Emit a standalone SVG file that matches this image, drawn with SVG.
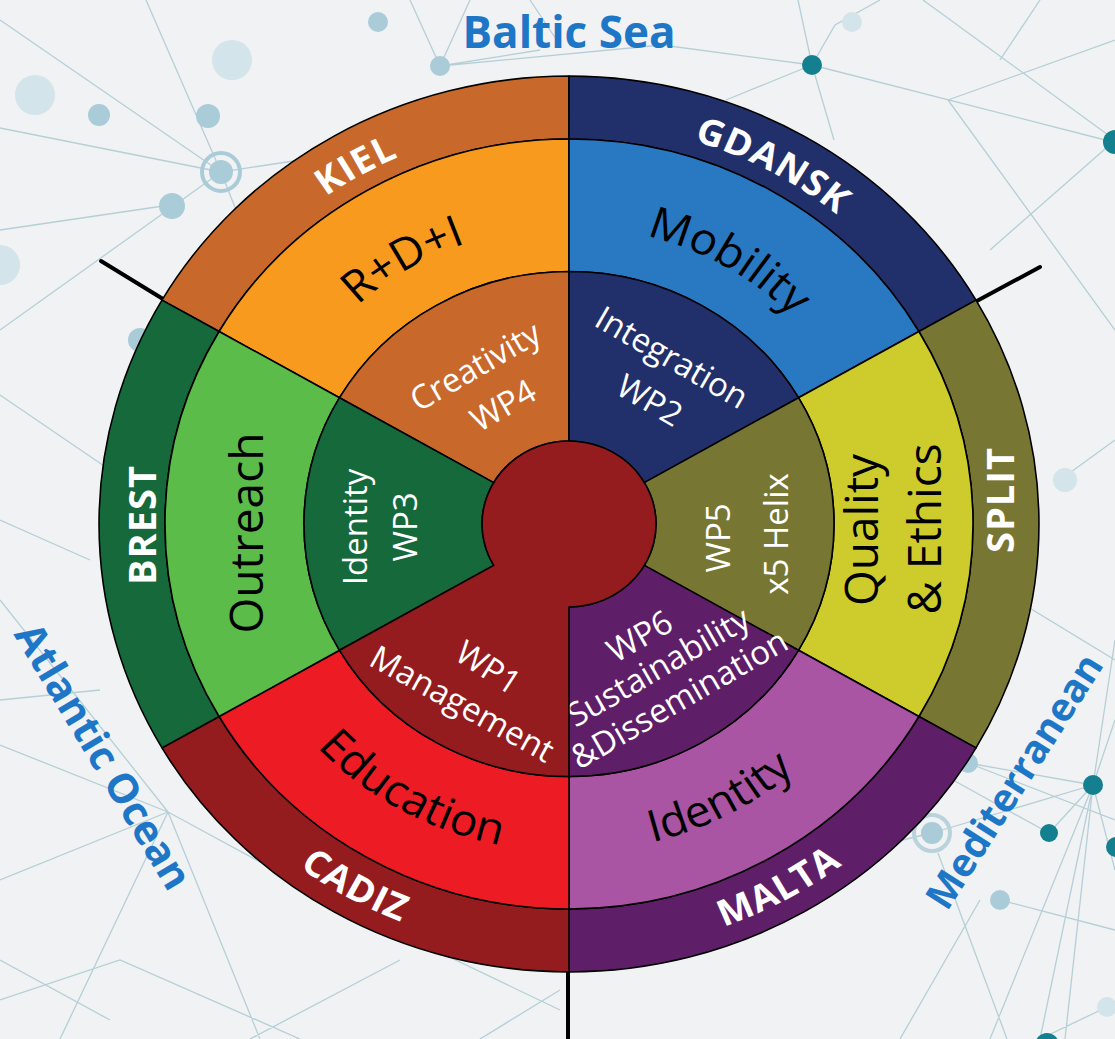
<svg xmlns="http://www.w3.org/2000/svg" width="1115" height="1039" viewBox="0 0 1115 1039">
<defs>
<style>
.bg{fill:#f1f2f3}
.net{stroke:#b5cfd8;stroke-width:1.3;fill:none}
.dl{fill:#a9ccd8}
.dp{fill:#d3e4ea}
.dt{fill:#14808f}
.seg{stroke:#000;stroke-width:1.6;stroke-linejoin:round}
.tick{stroke:#000;stroke-width:4;stroke-linecap:round;fill:none}
.city{font-family:'Open Sans','Liberation Sans',sans-serif;font-weight:700;font-size:38px;fill:#fff;letter-spacing:1px}
.mid{font-family:'Open Sans','Liberation Sans',sans-serif;font-size:46px;fill:#000}
.wp{font-family:'Open Sans','Liberation Sans',sans-serif;font-size:33px;fill:#fff}
.sea{font-family:'Open Sans','Liberation Sans',sans-serif;font-weight:700;fill:#1e77c6}
</style>
<path id="arcTopOuter" d="M -421,0 A 421 421 0 0 1 421,0"/>
<path id="arcBotOuter" d="M -450,0 A 450 450 0 0 0 450,0"/>
<path id="arcTopMid" d="M -312,0 A 312 312 0 0 1 312,0"/>
<path id="arcBotMid" d="M -344,0 A 344 344 0 0 0 344,0"/>
</defs>
<rect class="bg" x="0" y="0" width="1115" height="1039"/>
<g id="background-network">
<path class="net" d="M0,20 L221,172 M0,128 L221,172 M0,330 L221,172 M146,0 L221,172 L300,160 M221,172 L240,220 M0,395 L110,470 M0,230 L170,205 M410,0 L440,66 L540,50 M440,66 L470,0 M530,0 L560,45 M440,66 L662,45 L812,65 M812,65 L798,0 M812,65 L835,25 L880,0 M812,65 L726,100 M812,65 L834,140 M812,65 L1113,142 M923,0 L1115,140 M948,100 L1115,40 M948,100 L1115,330 M1040,0 L1000,60 M1113,142 L990,250 M1093,785 L968,763 M1093,785 L932,833 M1093,785 L1049,833 M1093,785 L1115,870 M1093,785 L1040,1039 M1093,785 L1065,1039 M1093,785 L990,1039 M1093,785 L1115,720 M1093,785 L1115,640 M953,780 L1049,833 M938,853 L1007,1039 M932,833 L860,850 M968,763 L1115,820 M1000,900 L1115,930 M1107,1007 L1040,1039 M1000,590 L1115,660 M1060,480 L1115,440 M980,900 L900,1039 M168,812 L0,745 M168,812 L0,880 M168,812 L60,1039 M168,812 L260,1039 M168,812 L330,900 M168,812 L0,600 M0,1000 L120,960 L300,1039 M110,1020 L0,960 M330,900 L560,1010 M250,1039 L400,960 M480,1039 L560,990 M0,520 L90,560 M0,700 L100,690"/>
<circle class="dp" cx="232" cy="60" r="20"/>
<circle class="dp" cx="35" cy="95" r="20"/>
<circle class="dp" cx="0" cy="265" r="20"/>
<circle class="dp" cx="852" cy="22" r="10"/>
<circle class="dp" cx="1065" cy="480" r="12"/>
<circle class="dp" cx="1107" cy="1007" r="10"/>
<circle class="dl" cx="378" cy="22" r="10"/>
<circle class="dl" cx="440" cy="66" r="10"/>
<circle class="dl" cx="99" cy="115" r="11"/>
<circle class="dl" cx="208" cy="116" r="12"/>
<circle class="dl" cx="172" cy="206" r="13"/>
<circle class="dl" cx="140" cy="340" r="12"/>
<circle class="dl" cx="968" cy="763" r="10"/>
<circle class="dl" cx="1000" cy="900" r="10"/>
<circle fill="none" stroke="#a9ccd8" stroke-width="4" cx="221" cy="172" r="19"/>
<circle class="dl" cx="221" cy="172" r="12"/>
<circle fill="none" stroke="#b9d3dc" stroke-width="4" cx="932" cy="833" r="18"/>
<circle class="dl" cx="932" cy="833" r="11"/>
<circle class="dt" cx="812" cy="65" r="10"/>
<circle class="dt" cx="1115" cy="142" r="12"/>
<circle class="dt" cx="1093" cy="785" r="10"/>
<circle class="dt" cx="1049" cy="833" r="9"/>
<circle class="dt" cx="1116" cy="847" r="10"/>
<circle class="dt" cx="1047" cy="1045" r="12"/>
</g>
<g id="sea-labels">
<text class="sea" font-size="44" x="569" y="48" text-anchor="middle">Baltic Sea</text>
<text class="sea" font-size="41" text-anchor="middle" transform="translate(104,756) rotate(59)" y="15">Atlantic Ocean</text>
<text class="sea" font-size="39" text-anchor="middle" transform="translate(1014,781) rotate(-57.5)" y="14">Mediterranean</text>
</g>
<g id="connectors">
<line class="tick" x1="163" y1="299" x2="101" y2="261"/>
<line class="tick" x1="975" y1="302" x2="1040" y2="267"/>
<line class="tick" x1="568" y1="970" x2="568" y2="1045"/>
</g>
<g id="kiel">
<g transform="translate(569,524) scale(1,0.953)">
<path class="seg" fill="#c9682b" d="M -407,-235 A 470 470 0 0 1 0,-470 L 0,-404 A 404 404 0 0 0 -349.9,-202 Z"/>
<text class="city"><textPath href="#arcTopOuter" startOffset="33.6%" text-anchor="middle">KIEL</textPath></text>
</g>
</g>
<g id="gdansk">
<g transform="translate(569,524) scale(1,0.953)">
<path class="seg" fill="#21306b" d="M 0,-470 A 470 470 0 0 1 407,-235 L 349.9,-202 A 404 404 0 0 0 0,-404 Z"/>
<text class="city"><textPath href="#arcTopOuter" startOffset="65.8%" text-anchor="middle">GDANSK</textPath></text>
</g>
</g>
<g id="split">
<g transform="translate(569,524) scale(1,0.953)">
<path class="seg" fill="#777733" d="M 407,-235 A 470 470 0 0 1 407,235 L 349.9,202 A 404 404 0 0 0 349.9,-202 Z"/>
</g>
<text class="city" text-anchor="middle" transform="translate(1000,500) rotate(-90)" y="14">SPLIT</text>
</g>
<g id="malta">
<g transform="translate(569,524) scale(1,0.953)">
<path class="seg" fill="#5f1f68" d="M 407,235 A 470 470 0 0 1 0,470 L 0,404 A 404 404 0 0 0 349.9,202 Z"/>
<text class="city"><textPath href="#arcBotOuter" startOffset="66%" text-anchor="middle">MALTA</textPath></text>
</g>
</g>
<g id="cadiz">
<g transform="translate(569,524) scale(1,0.953)">
<path class="seg" fill="#941b1e" d="M 0,470 A 470 470 0 0 1 -407,235 L -349.9,202 A 404 404 0 0 0 0,404 Z"/>
<text class="city"><textPath href="#arcBotOuter" startOffset="33.7%" text-anchor="middle">CADIZ</textPath></text>
</g>
</g>
<g id="brest">
<g transform="translate(569,524) scale(1,0.953)">
<path class="seg" fill="#15693a" d="M -407,235 A 470 470 0 0 1 -407,-235 L -349.9,-202 A 404 404 0 0 0 -349.9,202 Z"/>
</g>
<text class="city" text-anchor="middle" transform="translate(142,525) rotate(-90)" y="14">BREST</text>
</g>
<g id="rdi">
<g transform="translate(569,524) scale(1,0.953)">
<path class="seg" fill="#f89a1e" d="M -349.9,-202 A 404 404 0 0 1 0,-404 L 0,-265 A 265 265 0 0 0 -229.5,-132.5 Z"/>
<text class="mid"><textPath href="#arcTopMid" startOffset="32.8%" text-anchor="middle">R+D+I</textPath></text>
</g>
</g>
<g id="mobility">
<g transform="translate(569,524) scale(1,0.953)">
<path class="seg" fill="#2878c2" d="M 0,-404 A 404 404 0 0 1 349.9,-202 L 229.5,-132.5 A 265 265 0 0 0 0,-265 Z"/>
<text class="mid"><textPath href="#arcTopMid" startOffset="66.7%" text-anchor="middle">Mobility</textPath></text>
</g>
</g>
<g id="quality-ethics">
<g transform="translate(569,524) scale(1,0.953)">
<path class="seg" fill="#cdcc2c" d="M 349.9,-202 A 404 404 0 0 1 349.9,202 L 229.5,132.5 A 265 265 0 0 0 229.5,-132.5 Z"/>
</g>
<text class="mid" text-anchor="middle" transform="translate(862,530) rotate(-90)" y="16">Quality</text>
<text class="mid" text-anchor="middle" transform="translate(925,529) rotate(-90)" y="16">&amp; Ethics</text>
</g>
<g id="identity-mid">
<g transform="translate(569,524) scale(1,0.953)">
<path class="seg" fill="#a955a3" d="M 349.9,202 A 404 404 0 0 1 0,404 L 0,265 A 265 265 0 0 0 229.5,132.5 Z"/>
<text class="mid"><textPath href="#arcBotMid" startOffset="65.3%" text-anchor="middle">Identity</textPath></text>
</g>
</g>
<g id="education">
<g transform="translate(569,524) scale(1,0.953)">
<path class="seg" fill="#ed1c24" d="M 0,404 A 404 404 0 0 1 -349.9,202 L -229.5,132.5 A 265 265 0 0 0 0,265 Z"/>
<text class="mid"><textPath href="#arcBotMid" startOffset="33.7%" text-anchor="middle">Education</textPath></text>
</g>
</g>
<g id="outreach">
<g transform="translate(569,524) scale(1,0.953)">
<path class="seg" fill="#5bbc4a" d="M -349.9,202 A 404 404 0 0 1 -349.9,-202 L -229.5,-132.5 A 265 265 0 0 0 -229.5,132.5 Z"/>
</g>
<text class="mid" text-anchor="middle" transform="translate(247,533) rotate(-90)" y="16">Outreach</text>
</g>
<g id="wp4">
<g transform="translate(569,524) scale(1,0.953)">
<path class="seg" fill="#c9682b" d="M -229.5,-132.5 A 265 265 0 0 1 0,-265 L 0,-87 A 87 87 0 0 0 -75.3,-43.5 Z"/>
</g>
<text class="wp" text-anchor="middle" transform="translate(475,366) rotate(-30)" y="12">Creativity</text>
<text class="wp" text-anchor="middle" transform="translate(503,405) rotate(-30)" y="12">WP4</text>
</g>
<g id="wp2">
<g transform="translate(569,524) scale(1,0.953)">
<path class="seg" fill="#21306b" d="M 0,-265 A 265 265 0 0 1 229.5,-132.5 L 75.3,-43.5 A 87 87 0 0 0 0,-87 Z"/>
</g>
<text class="wp" text-anchor="middle" transform="translate(672,357) rotate(30)" y="12">Integration</text>
<text class="wp" text-anchor="middle" transform="translate(650,400) rotate(30)" y="12">WP2</text>
</g>
<g id="wp5">
<g transform="translate(569,524) scale(1,0.953)">
<path class="seg" fill="#777733" d="M 229.5,-132.5 A 265 265 0 0 1 229.5,132.5 L 75.3,43.5 A 87 87 0 0 0 75.3,-43.5 Z"/>
</g>
<text class="wp" text-anchor="middle" transform="translate(718,538) rotate(-90)" y="12">WP5</text>
<text class="wp" text-anchor="middle" transform="translate(776,534) rotate(-90)" y="12">x5 Helix</text>
</g>
<g id="wp6">
<g transform="translate(569,524) scale(1,0.953)">
<path class="seg" fill="#5f1f68" d="M 229.5,132.5 A 265 265 0 0 1 0,265 L 0,87 A 87 87 0 0 0 75.3,43.5 Z"/>
</g>
<text class="wp" font-size="36" text-anchor="middle" transform="translate(639,635) rotate(-30)" y="13">WP6</text>
<text class="wp" font-size="21" text-anchor="middle" transform="translate(660,670) rotate(-30)" y="8">Sustainability</text>
<text class="wp" font-size="21" text-anchor="middle" transform="translate(681,702) rotate(-30)" y="8">&amp;Dissemination</text>
</g>
<g id="wp3">
<g transform="translate(569,524) scale(1,0.953)">
<path class="seg" fill="#15693a" d="M -229.5,132.5 A 265 265 0 0 1 -229.5,-132.5 L -75.3,-43.5 A 87 87 0 0 0 -75.3,43.5 Z"/>
</g>
<text class="wp" text-anchor="middle" transform="translate(355,527) rotate(-90)" y="12">Identity</text>
<text class="wp" text-anchor="middle" transform="translate(405,527) rotate(-90)" y="12">WP3</text>
</g>
<g id="wp1">
<g transform="translate(569,524) scale(1,0.953)">
<path class="seg" fill="#941b1e" d="M 0,87 A 87 87 0 1 0 -75.3,43.5 L -229.5,132.5 A 265 265 0 0 0 0,265 Z"/>
</g>
<text class="wp" font-size="32" text-anchor="middle" transform="translate(488,668) rotate(33)" y="11">WP1</text>
<text class="wp" font-size="26" text-anchor="middle" transform="translate(461,706) rotate(29)" y="9">Management</text>
</g>
</svg>
